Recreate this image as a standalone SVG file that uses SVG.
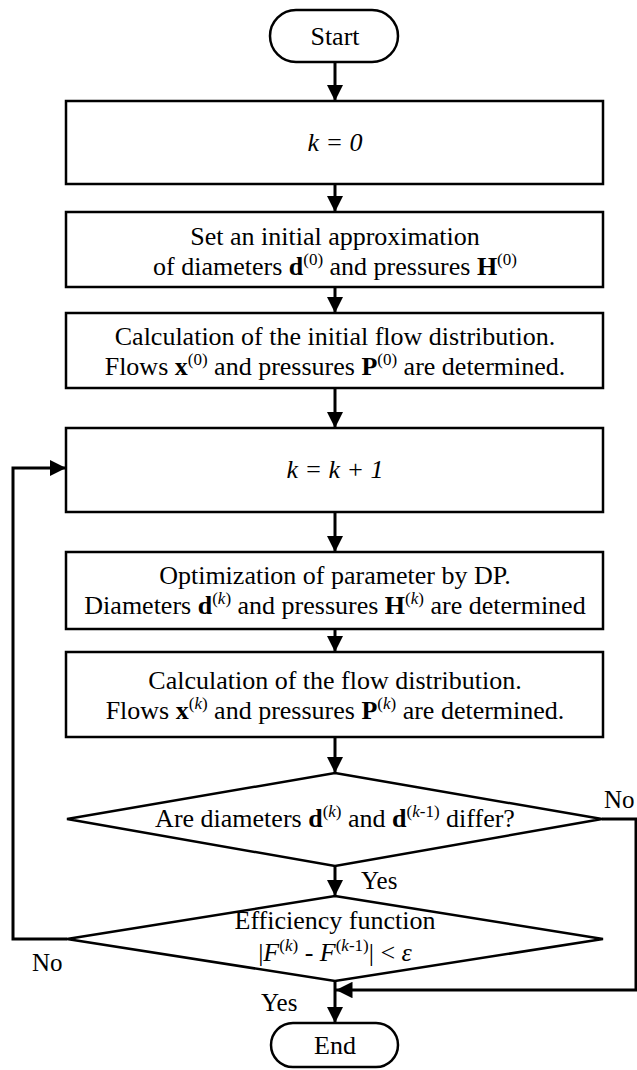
<svg xmlns="http://www.w3.org/2000/svg" width="637" height="1070" viewBox="0 0 637 1070">
<style>
.s{fill:#fff;stroke:#000;stroke-width:2.5}
.t{font-family:"Liberation Serif","Times New Roman",serif;font-size:26px;fill:#000;text-anchor:middle}
.l{font-family:"Liberation Serif","Times New Roman",serif;font-size:25px;fill:#000}
.c{fill:none;stroke:#000;stroke-width:3}
.sup{font-size:17px}
.b{font-weight:bold}
.i{font-style:italic}
</style>
<defs>
<marker id="ah" viewBox="0 0 10 10" refX="10" refY="5" markerWidth="5.5" markerHeight="5.5" orient="auto" markerUnits="strokeWidth">
<path d="M0,0 L10,5 L0,10 z" fill="#000"/>
</marker>
</defs>
<g id="connectors">
<path class="c" d="M335,62 V101" marker-end="url(#ah)"/>
<path class="c" d="M335,184 V212" marker-end="url(#ah)"/>
<path class="c" d="M335,287 V313" marker-end="url(#ah)"/>
<path class="c" d="M335,388 V428" marker-end="url(#ah)"/>
<path class="c" d="M335,512 V552" marker-end="url(#ah)"/>
<path class="c" d="M335,629 V652" marker-end="url(#ah)"/>
<path class="c" d="M335,737 V773" marker-end="url(#ah)"/>
<path class="c" d="M335,866 V896" marker-end="url(#ah)"/>
<path class="c" d="M335,981 V1023" marker-end="url(#ah)"/>
<path class="c" d="M67,939 H13 V468 H66" marker-end="url(#ah)"/>
<path class="c" d="M602,819 H636 V990 H336" marker-end="url(#ah)"/>
</g>
<g id="start">
<rect class="s" x="270" y="10" width="128" height="52" rx="26"/>
<text class="t" x="335" y="45">Start</text>
</g>
<g id="init-k">
<rect class="s" x="66" y="101" width="537" height="83"/>
<text class="t i" x="335" y="151">k = 0</text>
</g>
<g id="init-approx">
<rect class="s" x="66" y="212" width="537" height="75"/>
<text class="t" x="335" y="245">Set an initial approximation</text>
<text class="t" x="335" y="275">of diameters <tspan class="b">d</tspan><tspan class="sup" dy="-10">(0)</tspan><tspan dy="10"> and pressures </tspan><tspan class="b">H</tspan><tspan class="sup" dy="-10">(0)</tspan></text>
</g>
<g id="init-flow">
<rect class="s" x="66" y="313" width="537" height="75"/>
<text class="t" x="335" y="345">Calculation of the initial flow distribution.</text>
<text class="t" x="335" y="375">Flows <tspan class="b">x</tspan><tspan class="sup" dy="-10">(0)</tspan><tspan dy="10"> and pressures </tspan><tspan class="b">P</tspan><tspan class="sup" dy="-10">(0)</tspan><tspan dy="10"> are determined.</tspan></text>
</g>
<g id="increment">
<rect class="s" x="66" y="428" width="537" height="84"/>
<text class="t i" x="335" y="478">k = k + 1</text>
</g>
<g id="optimize">
<rect class="s" x="66" y="552" width="537" height="77"/>
<text class="t" x="335" y="584">Optimization of parameter by DP.</text>
<text class="t" x="335" y="614">Diameters <tspan class="b">d</tspan><tspan class="sup" dy="-10">(<tspan class="i">k</tspan>)</tspan><tspan dy="10"> and pressures </tspan><tspan class="b">H</tspan><tspan class="sup" dy="-10">(<tspan class="i">k</tspan>)</tspan><tspan dy="10"> are determined</tspan></text>
</g>
<g id="flow">
<rect class="s" x="66" y="652" width="537" height="85"/>
<text class="t" x="335" y="689">Calculation of the flow distribution.</text>
<text class="t" x="335" y="719">Flows <tspan class="b">x</tspan><tspan class="sup" dy="-10">(<tspan class="i">k</tspan>)</tspan><tspan dy="10"> and pressures </tspan><tspan class="b">P</tspan><tspan class="sup" dy="-10">(<tspan class="i">k</tspan>)</tspan><tspan dy="10"> are determined.</tspan></text>
</g>
<g id="decision-diam">
<polygon class="s" points="335,773 602,819 335,866 67,819"/>
<text class="t" x="335" y="827">Are diameters <tspan class="b">d</tspan><tspan class="sup" dy="-10">(<tspan class="i">k</tspan>)</tspan><tspan dy="10"> and </tspan><tspan class="b">d</tspan><tspan class="sup" dy="-10">(<tspan class="i">k</tspan>-1)</tspan><tspan dy="10"> differ?</tspan></text>
</g>
<g id="decision-eff">
<polygon class="s" points="335,896 603,939 335,981 67,939"/>
<text class="t" x="335" y="929">Efficiency function</text>
<text class="t" x="335" y="961">|<tspan class="i">F</tspan><tspan class="sup" dy="-10">(<tspan class="i">k</tspan>)</tspan><tspan dy="10"> - </tspan><tspan class="i">F</tspan><tspan class="sup" dy="-10">(<tspan class="i">k</tspan>-1)</tspan><tspan dy="10">| &lt; </tspan><tspan class="i">ε</tspan></text>
</g>
<g id="end">
<rect class="s" x="271" y="1023" width="127" height="44" rx="22"/>
<text class="t" x="335" y="1054">End</text>
</g>
<g id="labels">
<text class="l" x="604" y="808">No</text>
<text class="l" x="361" y="889">Yes</text>
<text class="l" x="32" y="971">No</text>
<text class="l" x="261" y="1011">Yes</text>
</g>
</svg>
